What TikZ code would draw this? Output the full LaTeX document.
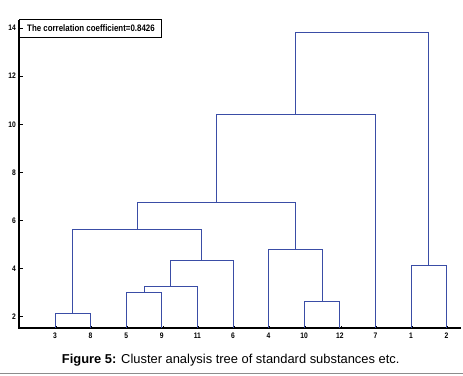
\documentclass[tikz,border=0pt]{standalone}
\usepackage{graphicx}
\usepackage{fontspec}
\setmainfont{Liberation Sans}
\usetikzlibrary{positioning}
\definecolor{TREE_COLOR}{HTML}{3A4DA6}
\definecolor{RULE_COLOR}{HTML}{8C8C8C}
\newcommand{\narrowtext}[1]{\scalebox{0.84}[1]{#1}}
\tikzstyle{branch}=[draw=TREE_COLOR, line width=1pt]
\tikzstyle{axis}=[draw=black, line width=1.5pt]
\tikzstyle{ytick}=[draw=black, line width=0.8pt]
\tikzstyle{xtick}=[draw=black, line width=0.9pt]
\tikzstyle{ticklab}=[inner sep=0pt, font=\bfseries\fontsize{8}{8}\selectfont]
\tikzstyle{corrbox}=[draw=black, line width=0.8pt, inner sep=0pt, minimum width=142.5pt, minimum height=17.7pt]
\tikzstyle{corrtext}=[inner sep=0pt, font=\bfseries\fontsize{9.4}{9.4}\selectfont]
\tikzstyle{caption}=[inner sep=0pt, font=\fontsize{12.9}{14}\selectfont]
\begin{document}
\begin{tikzpicture}[x=1pt, y=1pt]
      \useasboundingbox (0,0) rectangle (463,375);

      \begin{scope}[yshift=10.2pt, y=24.05pt]
      %%%%%%%%%%%%%%%%%%%%%%%%%%%%%%%%%%%%%%%%%%%%%%%%%
      % AXES
      %%%%%%%%%%%%%%%%%%%%%%%%%%%%%%%%%%%%%%%%%%%%%%%%%
      \coordinate (origin) at (19,1.53);
      \coordinate (ytop)   at (19,14.34);
      \coordinate (xend)   at (461,1.53);
      \draw[axis] (ytop) -- (origin) -- (xend);

      \foreach \v in {2,4,...,14} {
        \coordinate (yt\v) at (19,\v);
        \draw[ytick] (yt\v) -- ++(3.5pt,0);
        \node[ticklab, left=3pt of yt\v] (ylab\v) {\narrowtext{\v}};
      }

      \node[corrbox, anchor=north west] (corr) at (18.5,14.37) {};
      \node[corrtext, right=8.5pt of corr.west] (corrlab) {\narrowtext{The correlation coefficient=0.8426}};

      %%%%%%%%%%%%%%%%%%%%%%%%%%%%%%%%%%%%%%%%%%%%%%%%%
      % LEAVES
      %%%%%%%%%%%%%%%%%%%%%%%%%%%%%%%%%%%%%%%%%%%%%%%%%
      \foreach \lab [count=\i from 0] in {3,8,5,9,11,6,4,10,12,7,1,2} {
        \coordinate (b\lab) at (55+35.6*\i,1.53);
        \draw[xtick] ([xshift=1.3pt]b\lab) -- ++(0,2.2pt);
        \node[ticklab, below=5pt of b\lab] (x\lab) {\narrowtext{\lab}};
      }

      %%%%%%%%%%%%%%%%%%%%%%%%%%%%%%%%%%%%%%%%%%%%%%%%%
      % MERGES
      %%%%%%%%%%%%%%%%%%%%%%%%%%%%%%%%%%%%%%%%%%%%%%%%%
      \coordinate (c38)    at (72.8,2.14);
      \coordinate (c59)    at (144.0,3.01);
      \coordinate (c5to11) at (170.7,3.26);
      \coordinate (c5to6)  at (201.9,4.32);
      \coordinate (c3to6)  at (137.3,5.63);
      \coordinate (c1012)  at (322.0,2.64);
      \coordinate (c4to12) at (295.3,4.80);
      \coordinate (c3to12) at (216.3,6.76);
      \coordinate (c3to7)  at (295.8,10.42);
      \coordinate (c12)    at (428.8,4.14);
      \coordinate (ctop)   at (362.3,13.83);

      % left group
      \draw[branch] (b3) |- (c38) -| (b8);
      \draw[branch] (b5) |- (c59) -| (b9);
      \draw[branch] (c59) |- (c5to11) -| (b11);
      \draw[branch] (c5to11) |- (c5to6) -| (b6);
      \draw[branch] (c38) |- (c3to6) -| (c5to6);

      % middle group
      \draw[branch] (b10) |- (c1012) -| (b12);
      \draw[branch] (b4) |- (c4to12) -| (c1012);
      \draw[branch] (c3to6) |- (c3to12) -| (c4to12);
      \draw[branch] (c3to12) |- (c3to7) -| (b7);

      % right group
      \draw[branch] (b1) |- (c12) -| (b2);
      \draw[branch] (c3to7) |- (ctop) -| (c12);
      \end{scope}

      %%%%%%%%%%%%%%%%%%%%%%%%%%%%%%%%%%%%%%%%%%%%%%%%%
      % CAPTION
      %%%%%%%%%%%%%%%%%%%%%%%%%%%%%%%%%%%%%%%%%%%%%%%%%
      \node[caption, anchor=base] (cap) at (230.7,11.7) {\textbf{Figure 5:} Cluster analysis tree of standard substances etc.};
      \draw[draw=RULE_COLOR, line width=1.8pt] (0,1.6) -- (463,1.6);
\end{tikzpicture}
\end{document}
